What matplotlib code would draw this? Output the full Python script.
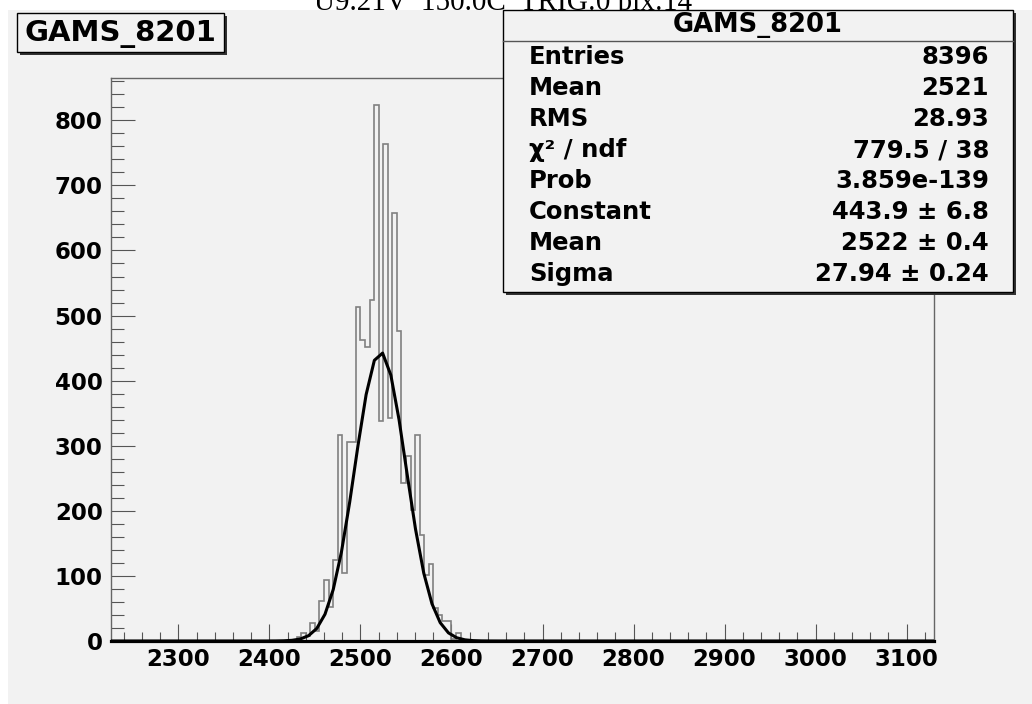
import numpy as np
import matplotlib
matplotlib.use("Agg")
import matplotlib.pyplot as plt
from matplotlib.patches import Rectangle
from matplotlib.ticker import MultipleLocator

# ---------------- data ----------------
hist_name = "GAMS_8201"
header_text = "U9.21V  150.0C  TRIG:0 pix:14"
bin_width = 5
bin_low = [2420, 2425, 2430, 2435, 2440, 2445, 2450, 2455, 2460, 2465,
           2470, 2475, 2480, 2485, 2490, 2495, 2500, 2505, 2510, 2515,
           2520, 2525, 2530, 2535, 2540, 2545, 2550, 2555, 2560, 2565,
           2570, 2575, 2580, 2585, 2590, 2595, 2600, 2605, 2610]
counts = [0, 2, 6, 13, 8, 28, 15, 62, 93, 53,
          125, 316, 105, 305, 305, 513, 463, 451, 524, 823,
          338, 764, 343, 657, 476, 242, 284, 201, 316, 163,
          101, 119, 50, 40, 31, 31, 3, 13, 0]
fit_constant = 443.9
fit_mean = 2522.0
fit_sigma = 27.94
x_range = (2226, 3130)
y_max = 865
x_ticks = [2300, 2400, 2500, 2600, 2700, 2800, 2900, 3000, 3100]
y_ticks = [0, 100, 200, 300, 400, 500, 600, 700, 800]
stats_labels = ["Entries", "Mean", "RMS", "\u03c7\u00b2 / ndf", "Prob",
                "Constant", "Mean", "Sigma"]
stats_values = ["8396", "2521", "28.93", "779.5 / 38", "3.859e-139",
                "443.9 \u00b1 6.8", "2522 \u00b1 0.4", "27.94 \u00b1 0.24"]

# ---------------- figure ----------------
W, H = 1032, 704
fig = plt.figure(figsize=(W / 100, H / 100), dpi=100)
fig.patch.set_facecolor("white")
bg = "#f2f2f2"
fig.add_artist(Rectangle((8 / W, 0), 1 - 8 / W, (H - 10) / H,
                         transform=fig.transFigure, facecolor=bg,
                         edgecolor="none", zorder=-10))

L, R, T, B = 111, 934, 78, 641
ax = fig.add_axes([L / W, 1 - B / H, (R - L) / W, (B - T) / H])
ax.set_facecolor(bg)

edges = list(bin_low) + [bin_low[-1] + bin_width]
ax.stairs(counts, edges, color="#808080", linewidth=1.2, zorder=2)

xf = np.linspace(x_range[0], x_range[1], 101)
yf = fit_constant * np.exp(-0.5 * ((xf - fit_mean) / fit_sigma) ** 2)
ax.plot(xf, yf, color="black", linewidth=2.2, zorder=3)

ax.set_xlim(*x_range)
ax.set_ylim(0, y_max)
ax.set_xticks(x_ticks)
ax.set_yticks(y_ticks)
ax.xaxis.set_minor_locator(MultipleLocator(20))
ax.yaxis.set_minor_locator(MultipleLocator(20))
ax.tick_params(axis="x", which="major", direction="in", length=12.5,
               width=0.8, color="#555555", pad=5)
ax.tick_params(axis="x", which="minor", direction="in", length=6.5,
               width=0.8, color="#555555")
ax.tick_params(axis="y", which="major", direction="in", length=17,
               width=0.8, color="#555555", pad=6)
ax.tick_params(axis="y", which="minor", direction="in", length=9.5,
               width=0.8, color="#555555")
for lab in ax.get_xticklabels() + ax.get_yticklabels():
    lab.set_fontfamily("DejaVu Sans")
    lab.set_fontweight("bold")
    lab.set_fontsize(16.5)
ax.spines["bottom"].set_color("black")
ax.spines["bottom"].set_linewidth(2.3)
for s in ["left", "top", "right"]:
    ax.spines[s].set_color("#666666")
    ax.spines[s].set_linewidth(1.0)

# ---------------- overlay (pixel coords) ----------------
ov = fig.add_axes([0, 0, 1, 1], zorder=10)
ov.set_xlim(0, W)
ov.set_ylim(H, 0)
ov.axis("off")
ov.patch.set_alpha(0)

# header text (partly outside the top edge, as in the original canvas)
ov.text(503, 10, header_text, ha="center", va="baseline",
        fontfamily="Liberation Serif", fontsize=21, color="black", zorder=1)

# title box
tx0, ty0, tx1, ty1 = 17, 13, 224, 52
ov.add_patch(Rectangle((tx0 + 3, ty0 + 3), tx1 - tx0, ty1 - ty0,
                       facecolor="#333333", edgecolor="none", zorder=2))
ov.add_patch(Rectangle((tx0, ty0), tx1 - tx0, ty1 - ty0,
                       facecolor=bg, edgecolor="black", linewidth=1.0,
                       zorder=2))
ov.text((tx0 + tx1) / 2, (ty0 + ty1) / 2 + 1, hist_name, ha="center",
        va="center", fontfamily="DejaVu Sans", fontweight="bold",
        fontsize=21, zorder=3)

# stats box
sx0, sy0, sx1, sy1 = 503, 10, 1013, 292
ov.add_patch(Rectangle((sx0 + 3, sy0 + 3), sx1 - sx0, sy1 - sy0,
                       facecolor="#333333", edgecolor="none", zorder=2))
ov.add_patch(Rectangle((sx0, sy0), sx1 - sx0, sy1 - sy0,
                       facecolor=bg, edgecolor="black", linewidth=1.0,
                       zorder=2))
ov.plot([sx0, sx1], [41, 41], color="#555555", linewidth=1.0, zorder=3)
ov.text((sx0 + sx1) / 2, 25, hist_name, ha="center", va="center",
        fontfamily="DejaVu Sans", fontweight="bold", fontsize=18.5, zorder=3)
row_y0, row_dy = 57, 31.0
for i, (lab, val) in enumerate(zip(stats_labels, stats_values)):
    y = row_y0 + i * row_dy
    ov.text(529, y, lab, ha="left", va="center",
            fontfamily="DejaVu Sans", fontweight="bold", fontsize=17.5,
            zorder=3)
    ov.text(989, y, val, ha="right", va="center",
            fontfamily="DejaVu Sans", fontweight="bold", fontsize=17.5,
            zorder=3)

fig.savefig("out.png", dpi=100, facecolor=fig.get_facecolor())
